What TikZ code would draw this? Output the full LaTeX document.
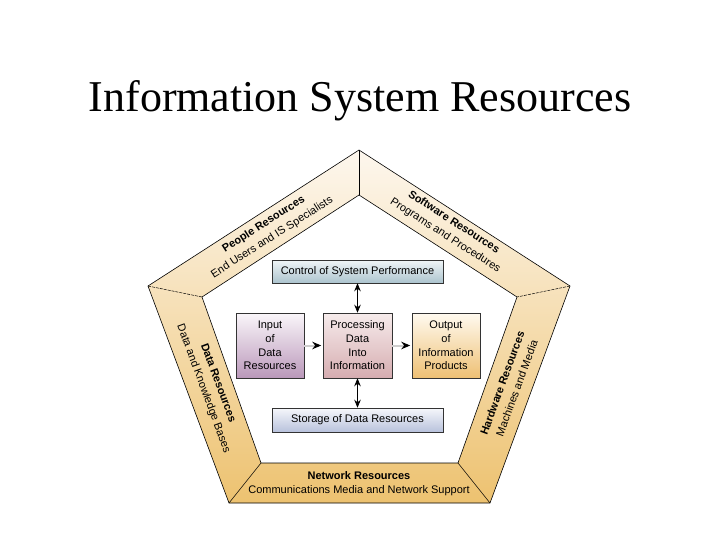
\documentclass[tikz,border=0pt]{standalone}
\usepackage{fontspec}
\setmainfont{Liberation Serif}
\setsansfont{Liberation Sans}
\usetikzlibrary{arrows.meta}
\pgfdeclarelayer{bg}
\pgfsetlayers{bg,main}
\definecolor{ringtop}{RGB}{253,247,238}
\definecolor{ringbot}{RGB}{237,194,112}
\definecolor{ctltop}{RGB}{240,245,247}
\definecolor{ctlbot}{RGB}{172,196,206}
\definecolor{intop}{RGB}{250,246,250}
\definecolor{inbot}{RGB}{186,152,186}
\definecolor{prtop}{RGB}{246,236,236}
\definecolor{prbot}{RGB}{214,172,176}
\definecolor{outtop}{RGB}{255,250,240}
\definecolor{outbot}{RGB}{238,192,116}
\definecolor{sttop}{RGB}{246,247,251}
\definecolor{stbot}{RGB}{184,194,220}
\definecolor{shaftgray}{RGB}{205,205,205}
\begin{document}
\begin{tikzpicture}[x=1pt,y=-1pt,
  ringlabel/.style={font=\sffamily\fontsize{11}{14}\selectfont, align=center, inner sep=0pt},
  slantlabel/.style={font=\sffamily\fontsize{11}{15.5}\selectfont, align=center, inner sep=0pt},
  procbox/.style={draw=black!80, line width=0.5pt, font=\sffamily\fontsize{11}{13.7}\selectfont, align=center, inner sep=0pt},
  flowarrow/.style={draw=shaftgray, line width=2pt, -{Stealth[black,length=9pt,width=7.5pt]}},
  duoarrow/.style={draw=black, line width=0.8pt, {Stealth[length=8pt,width=6.5pt]}-{Stealth[length=8pt,width=6.5pt]}}
]
\path[use as bounding box, fill=white] (0,0) rectangle (720,540);

\node[font=\fontsize{44}{52}\selectfont, inner sep=0pt, anchor=base] (title) at (360,112) {Information System Resources};

% pentagon vertices
\coordinate (oT) at (359,150);
\coordinate (oR) at (570,286);
\coordinate (oBR) at (490,503);
\coordinate (oBL) at (229,503);
\coordinate (oL) at (148,286);
\coordinate (iT) at (359,195);
\coordinate (iR) at (517,297);
\coordinate (iBR) at (458,463);
\coordinate (iBL) at (261,463);
\coordinate (iL) at (202,297);

\shade[top color=ringtop, bottom color=ringbot, even odd rule]
  (oT)--(oR)--(oBR)--(oBL)--(oL)--cycle
  (iT)--(iR)--(iBR)--(iBL)--(iL)--cycle;
\draw[line width=0.6pt] (oT)--(oR)--(oBR)--(oBL)--(oL)--cycle;
\draw[line width=0.6pt] (iT)--(iR)--(iBR)--(iBL)--(iL)--cycle;
\draw[line width=0.5pt] (oT)--(iT);
\draw[line width=0.5pt, dash pattern=on 3pt off 1pt] (oR)--(iR);
\draw[line width=0.5pt, dash pattern=on 3pt off 1pt] (oL)--(iL);
\draw[line width=0.5pt] (oBL)--(iBL);
\draw[line width=0.5pt] (oBR)--(iBR);

% ring labels
\node[slantlabel, rotate=32.6] (people) at (268,231) {\textbf{People Resources}\\End Users and IS Specialists};
\node[slantlabel, rotate=-32.6] (software) at (449.5,229) {\textbf{Software Resources}\\Programs and Procedures};
\node[slantlabel, rotate=-69.7] (data) at (210.5,386) {\textbf{Data Resources}\\Data and Knowledge Bases};
\node[slantlabel, rotate=69.8] (hardware) at (509.5,385.5) {\textbf{Hardware Resources}\\Machines and Media};
\node[ringlabel] (network) at (359,484) {\textbf{Network Resources}\\Communications Media and Network Support};

% process boxes
\node[procbox, top color=ctltop, bottom color=ctlbot, minimum width=171pt, minimum height=23pt] (control) at (357.5,271.5) {Control of System Performance};
\node[procbox, top color=intop, bottom color=inbot, minimum width=68pt, minimum height=65pt] (input) at (270,345.5) {Input\\of\\Data\\Resources};
\node[procbox, top color=prtop, bottom color=prbot, minimum width=69pt, minimum height=65pt] (process) at (357.5,345.5) {Processing\\Data\\Into\\Information};
\node[procbox, top color=outtop, bottom color=outbot, minimum width=68pt, minimum height=65pt] (output) at (446,345.5) {Output\\of\\Information\\Products};
\node[procbox, top color=sttop, bottom color=stbot, minimum width=171pt, minimum height=24pt] (storage) at (357.5,420) {Storage of Data Resources};

\begin{pgfonlayer}{bg}
  \foreach \b in {control,input,process,output,storage}{
    \fill[black!65] ([shift={(1.5,1.5)}]\b.north west) rectangle ([shift={(1.5,1.5)}]\b.south east);
  }
\end{pgfonlayer}

% connectors
\draw[flowarrow] (input.east) -- ([xshift=-1.5pt]process.west);
\draw[flowarrow] (process.east) -- ([xshift=-1.5pt]output.west);
\draw[duoarrow] (control.south) -- (process.north);
\draw[duoarrow] (process.south) -- (storage.north);
\end{tikzpicture}
\end{document}
